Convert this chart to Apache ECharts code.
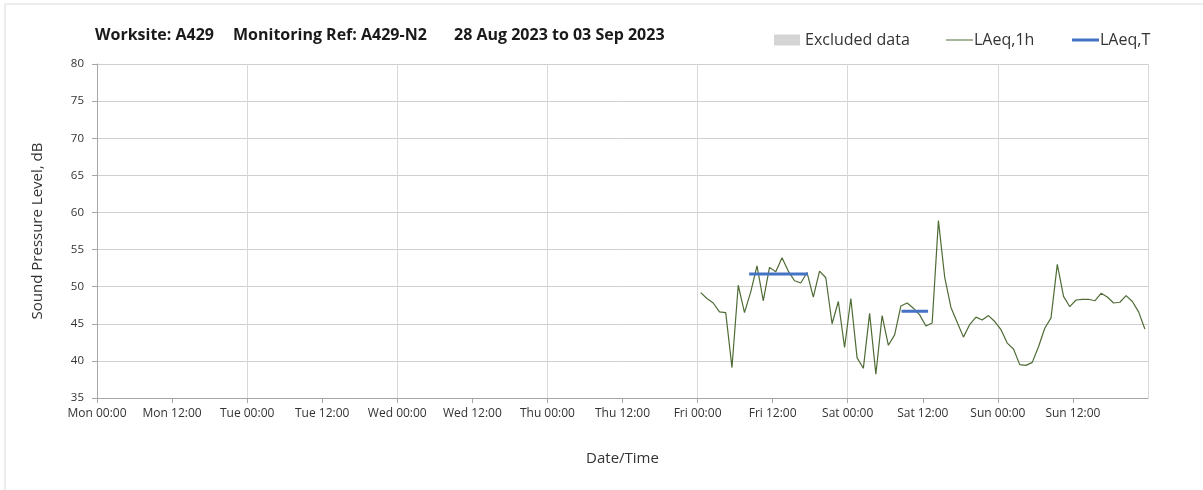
<!DOCTYPE html>
<html>
<head>
<meta charset="utf-8">
<script src="https://cdn.jsdelivr.net/npm/echarts@6/dist/echarts.min.js"></script>
<style>
  html, body { margin: 0; padding: 0; background: #fff; }
  #chart { width: 1203px; height: 490px; }
</style>
</head>
<body>
<div id="chart"></div>
<script>
// hours counted from Mon 28 Aug 2023 00:00
const dayNames = ['Mon', 'Tue', 'Wed', 'Thu', 'Fri', 'Sat', 'Sun', 'Mon'];
const yTicks = [35, 40, 45, 50, 55, 60, 65, 70, 75, 80];

// LAeq,1h, hourly, first value at Fri 00:30
const firstHour = 96.5;
const friValues = [49.2, 48.4, 47.8, 46.6, 46.5, 39.1, 50.2, 46.5, 49.3, 52.8, 48.1, 52.6,
                   52.0, 53.9, 52.1, 50.8, 50.5, 51.9, 48.6, 52.1, 51.2, 45.0, 48.0, 41.8];
const satValues = [48.4, 40.4, 39.0, 46.4, 38.2, 46.1, 42.1, 43.5, 47.4, 47.8, 47.1, 46.2,
                   44.7, 45.1, 58.9, 51.3, 47.2, 45.2, 43.2, 44.9, 45.9, 45.5, 46.1, 45.3];
const sunValues = [44.2, 42.4, 41.6, 39.5, 39.4, 39.8, 41.9, 44.4, 45.8, 53.0, 48.7, 47.3,
                   48.2, 48.3, 48.3, 48.1, 49.1, 48.6, 47.8, 47.9, 48.8, 48.0, 46.6, 44.3];

// LAeq,T periods (hours from Mon 00:00)
const periodStart = [104.25, 128.6];
const periodEnd = [113.65, 132.85];
const periodLevel = [51.7, 46.7];

const hourly = friValues.concat(satValues, sunValues);
const hourlyData = hourly.map((v, i) => [firstHour + i, v]);

const periodData = [];
periodStart.forEach((s, i) => {
  if (i > 0) periodData.push([s - 1, null]);
  periodData.push([s, periodLevel[i]]);
  periodData.push([periodEnd[i], periodLevel[i]]);
});

const font = 'Open Sans';
let myChart = echarts.init(document.getElementById('chart'));

const option = {
  animation: false,
  backgroundColor: '#fff',
  textStyle: { fontFamily: font },
  graphic: [
    {
      type: 'rect',
      shape: { x: 5, y: 4, width: 1400, height: 700 },
      style: { fill: 'none', stroke: '#d9d9d9', lineWidth: 1 },
      silent: true
    }
  ],
  title: [
    { text: 'Worksite: A429', left: 95, top: 27 },
    { text: 'Monitoring Ref: A429-N2', left: 233, top: 27 },
    { text: '28 Aug 2023 to 03 Sep 2023', left: 454, top: 27 }
  ].map(t => Object.assign(t, {
    padding: 0,
    textStyle: { fontFamily: font, fontSize: 16, fontWeight: 'bold', color: '#1a1a1a' }
  })),
  legend: [
    {
      data: [{ name: 'Excluded data', icon: 'rect' }],
      left: 774, top: 32, itemWidth: 26, itemHeight: 11, itemGap: 6, padding: 0,
      textStyle: { fontFamily: font, fontSize: 16, color: '#333' }
    },
    {
      data: [{ name: 'LAeq,1h', icon: 'rect' }],
      left: 946, top: 32, itemWidth: 27, itemHeight: 1, padding: 0,
      textStyle: { fontFamily: font, fontSize: 16, color: '#333', padding: [0, 0, 0, -4] }
    },
    {
      data: [{ name: 'LAeq,T', icon: 'rect' }],
      left: 1072, top: 32, itemWidth: 27, itemHeight: 3, padding: 0,
      textStyle: { fontFamily: font, fontSize: 16, color: '#333', padding: [0, 0, 0, -4] }
    }
  ],
  grid: { left: 97, right: 55, top: 64, bottom: 92 },
  xAxis: [
    {
      // day grid lines
      type: 'value', min: 0, max: 168, interval: 24,
      axisLine: { show: true, lineStyle: { color: '#a6a6a6', width: 1 } },
      axisTick: { show: false },
      axisLabel: { show: false },
      splitLine: { show: true, lineStyle: { color: '#d9d9d9', width: 1 } },
      name: 'Date/Time', nameLocation: 'middle', nameGap: 53,
      nameTextStyle: { fontFamily: font, fontSize: 15, color: '#333' }
    },
    {
      // 12 hour ticks and labels
      type: 'value', min: 0, max: 168, interval: 12, position: 'bottom',
      axisLine: { show: false },
      axisTick: { show: true, length: 5, lineStyle: { color: '#a6a6a6' } },
      splitLine: { show: false },
      axisLabel: {
        showMaxLabel: false, margin: 10, fontFamily: font, fontSize: 12, color: '#333',
        formatter: v => dayNames[Math.floor(v / 24)] + (v % 24 === 0 ? ' 00:00' : ' 12:00')
      }
    }
  ],
  yAxis: {
    type: 'value', min: yTicks[0], max: yTicks[yTicks.length - 1], interval: 5,
    name: 'Sound Pressure Level, dB', nameLocation: 'middle', nameGap: 52,
    nameTextStyle: { fontFamily: font, fontSize: 15, color: '#333' },
    axisLine: { show: true, lineStyle: { color: '#a6a6a6', width: 1 } },
    axisTick: { show: true, length: 5, lineStyle: { color: '#a6a6a6' } },
    axisLabel: { margin: 13, fontFamily: font, fontSize: 11.5, color: '#333' },
    splitLine: { show: true, lineStyle: { color: '#d0d0d0', width: 1 } }
  },
  series: [
    {
      name: 'Excluded data', type: 'line', data: [],
      itemStyle: { color: '#d4d4d4' }, lineStyle: { color: '#d4d4d4' }
    },
    {
      name: 'LAeq,1h', type: 'line', data: hourlyData,
      showSymbol: false, symbol: 'none',
      itemStyle: { color: '#4f6b35' },
      lineStyle: { color: '#4f6b35', width: 1.2 }
    },
    {
      name: 'LAeq,T', type: 'line', data: periodData,
      showSymbol: false, symbol: 'none', connectNulls: false,
      itemStyle: { color: '#4472c4' },
      lineStyle: { color: '#4472c4', width: 3 }
    }
  ]
};

myChart.setOption(option, true);
</script>
</body>
</html>
